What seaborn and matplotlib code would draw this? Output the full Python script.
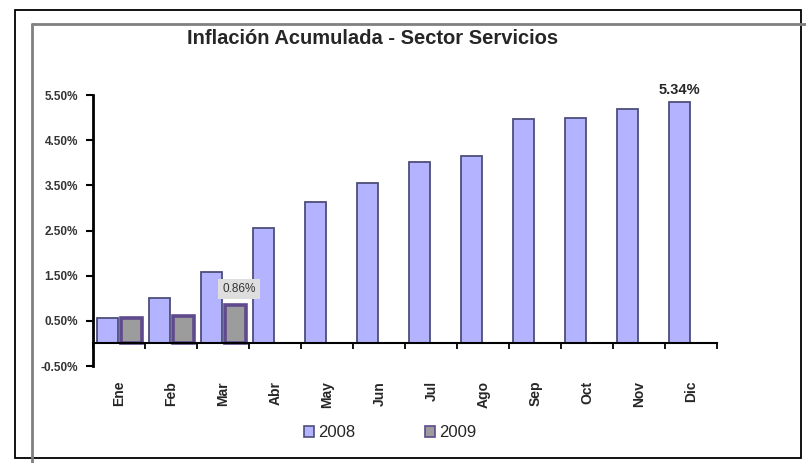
import numpy as np
import pandas as pd
import seaborn as sns
import matplotlib.pyplot as plt
from matplotlib.lines import Line2D
from matplotlib.patches import Patch, Rectangle
from matplotlib.ticker import FixedLocator, FuncFormatter


TITLE = 'Inflación Acumulada - Sector Servicios'
MONTHS = ['Ene', 'Feb', 'Mar', 'Abr', 'May', 'Jun',
          'Jul', 'Ago', 'Sep', 'Oct', 'Nov', 'Dic']
YEARS = ['2008', '2009']
VALS_2008 = [0.56, 1.00, 1.58, 2.56, 3.13, 3.56,
             4.02, 4.16, 4.96, 4.99, 5.18, 5.34]
VALS_2009 = [0.56, 0.60, 0.86, None, None, None,
             None, None, None, None, None, None]
Y_TICKS = [-0.5, 0.5, 1.5, 2.5, 3.5, 4.5, 5.5]

FACE = {'2008': '#b3b3ff', '2009': '#9c9c9c'}
EDGE = {'2008': '#4e4e78', '2009': '#5e4a8c'}


def main():
    sns.set_style('white')
    plt.rcParams['font.family'] = ['Liberation Sans', 'DejaVu Sans']

    # long table for seaborn
    df = pd.DataFrame({
        'mes': MONTHS * 2,
        'anio': ['2008'] * len(MONTHS) + ['2009'] * len(MONTHS),
        'valor': VALS_2008 + [np.nan if v is None else v for v in VALS_2009],
    })

    fig = plt.figure(figsize=(8.06, 4.63), dpi=100)
    ax = fig.add_axes([0.116, 0.2095, 0.774, 0.5853])

    sns.barplot(
        data=df, x='mes', y='valor', hue='anio',
        order=MONTHS, hue_order=YEARS, palette=FACE, saturation=1,
        width=0.92, gap=0.1, dodge=True, ax=ax, legend=False,
    )

    # edges per series
    for year, cont in zip(YEARS, ax.containers):
        for bar in cont:
            bar.set_edgecolor(EDGE[year])
            bar.set_linewidth(1.3 if year == '2008' else 2.6)

    ax.set_xlim(-0.5, len(MONTHS) - 0.5)
    ax.set_ylim(-0.5, 5.5)
    ax.set_xlabel('')
    ax.set_ylabel('')

    # axes styling, excel-like
    for side in ['top', 'right']:
        ax.spines[side].set_visible(False)
    ax.spines['bottom'].set_position(('data', 0))
    ax.spines['bottom'].set_color('black')
    ax.spines['bottom'].set_linewidth(1.5)
    ax.spines['left'].set_color('black')
    ax.spines['left'].set_linewidth(2)

    ax.yaxis.set_major_locator(FixedLocator(Y_TICKS))
    ax.yaxis.set_major_formatter(FuncFormatter(lambda v, p: f'{v:.2f}%'))
    ax.tick_params(axis='y', direction='out', length=5, width=1.5,
                   pad=6, labelsize=8.5, left=True, colors='black')
    for lab in ax.get_yticklabels():
        lab.set_fontweight('bold')
        lab.set_color('#333333')

    ax.set_xticks(range(len(MONTHS)))
    ax.set_xticklabels(MONTHS, rotation=90, fontweight='bold', fontsize=10)
    ax.set_xticks(np.arange(-0.5, len(MONTHS), 1.0), minor=True)
    ax.tick_params(axis='x', which='major', length=0, pad=27)
    ax.tick_params(axis='x', which='minor', direction='out', length=4,
                   width=1.3, bottom=True, colors='black')

    # value labels
    ax.text(11 - 0.23, 5.34 + 0.12, '5.34%', ha='center', va='bottom',
            fontsize=10.5, fontweight='bold')
    ax.text(2 + 0.3, 0.86 + 0.22, '0.86%', ha='center', va='bottom',
            fontsize=8.5, color='#333333',
            bbox=dict(boxstyle='square,pad=0.35', fc='#dedede', ec='none'))

    fig.text(0.462, 0.916, TITLE, ha='center', va='center',
             fontsize=14.5, fontweight='bold')

    handles = [Patch(facecolor=FACE[y], edgecolor=EDGE[y], linewidth=1.2)
               for y in YEARS]
    fig.legend(handles, YEARS, loc='center', bbox_to_anchor=(0.484, 0.065),
               ncol=2, frameon=False, fontsize=12, handlelength=0.6,
               handleheight=0.6, handletextpad=0.25, columnspacing=4.2)

    # outer frames
    fig.patches.append(Rectangle((0.0192, 0.0108), 0.9752, 0.9676,
                                 transform=fig.transFigure, fill=False,
                                 edgecolor='black', linewidth=1.3))
    fig.lines.append(Line2D([0.0403, 0.0403], [0.0, 0.948],
                            transform=fig.transFigure, color='#808080',
                            linewidth=2))
    fig.lines.append(Line2D([0.0403, 1.0], [0.948, 0.948],
                            transform=fig.transFigure, color='#808080',
                            linewidth=2))

    fig.savefig('out.png', dpi=100)
    plt.close(fig)


if __name__ == '__main__':
    main()
